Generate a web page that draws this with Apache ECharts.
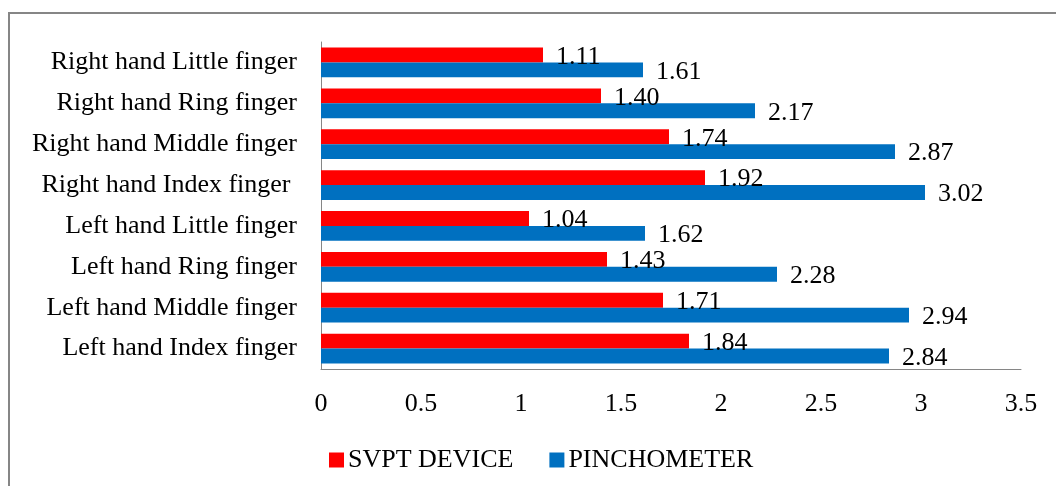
<!DOCTYPE html>
<html><head><meta charset="utf-8">
<script src="https://cdn.jsdelivr.net/npm/echarts@6/dist/echarts.min.js"></script>
<style>html,body{margin:0;padding:0;background:#fff}#c{width:1056px;height:486px}</style>
</head><body><div id="c"></div>
<script>
const categories = ['Left hand Index finger','Left hand Middle finger','Left hand Ring finger','Left hand Little finger','Right hand Index finger ','Right hand Middle finger','Right hand Ring finger','Right hand Little finger'];
const svpt = [1.84, 1.71, 1.43, 1.04, 1.92, 1.74, 1.40, 1.11];
const pinch = [2.84, 2.94, 2.28, 1.62, 3.02, 2.87, 2.17, 1.61];
const xTicks = [0, 0.5, 1, 1.5, 2, 2.5, 3, 3.5];

const font = '"Liberation Serif", "Times New Roman", serif';
const fs = 26;
const chart = echarts.init(document.getElementById('c'));
const lbl = {show:true, position:'right', distance:13, fontFamily:font, fontSize:fs, color:'#000', offset:[0,2], formatter:p=>p.value.toFixed(2)};
chart.setOption({
  animation:false,
  graphic:[{type:'polyline', shape:{points:[[9,486],[9,13],[1056,13]]}, style:{fill:'none', stroke:'#868686', lineWidth:2}}],
  grid:{left:321, right:35, top:42, bottom:117},
  legend:{data:['SVPT DEVICE','PINCHOMETER'], left:324, top:442, itemWidth:15, itemHeight:15, itemGap:36,
    textStyle:{fontFamily:font, fontSize:fs, color:'#000', padding:[0,0,0,-1]}, icon:'rect'},
  xAxis:{type:'value', min:0, max:3.5, interval:0.5,
    axisLine:{show:true, lineStyle:{color:'#868686'}}, axisTick:{show:false}, splitLine:{show:false},
    axisLabel:{fontFamily:font, fontSize:fs, color:'#000', margin:22, formatter:v=>xTicks.includes(v)?String(v):''}},
  yAxis:{type:'category', data:categories,
    axisLine:{show:true, lineStyle:{color:'#868686'}}, axisTick:{show:false},
    axisLabel:{fontFamily:font, fontSize:fs, color:'#000', margin:24}},
  series:[
    {name:'SVPT DEVICE', type:'bar', data:svpt, itemStyle:{color:'#FF0000'}, barGap:'0%', barCategoryGap:'27%', label:lbl},
    {name:'PINCHOMETER', type:'bar', data:pinch, itemStyle:{color:'#0070C0'}, barGap:'0%', barCategoryGap:'27%', label:lbl}
  ]
});
</script></body></html>
